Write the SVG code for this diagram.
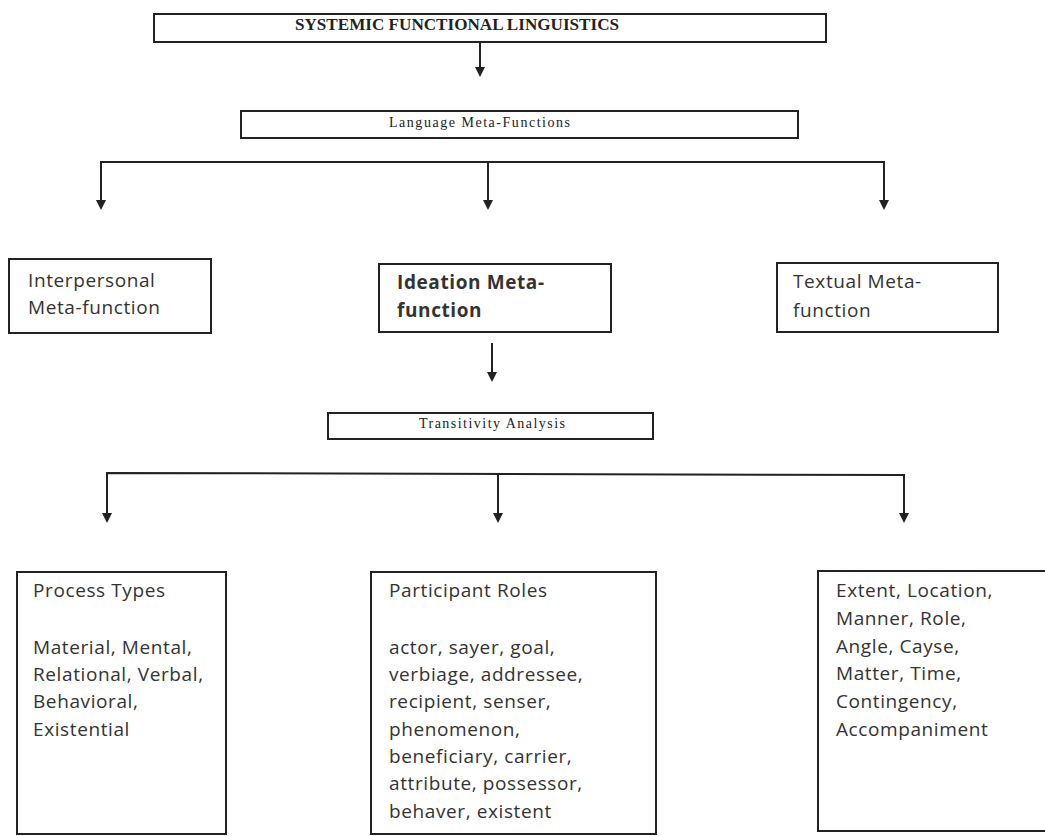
<svg xmlns="http://www.w3.org/2000/svg" width="1045" height="836" viewBox="0 0 1045 836">
<style>
.box{fill:#fff;stroke:#222;stroke-width:2}
.ser{font-family:"Liberation Serif",serif;fill:#222}
.sans{font-family:"Open Sans","DejaVu Sans",sans-serif;font-size:19px;letter-spacing:0.6px;fill:#333}
.ln{stroke:#222;stroke-width:2;fill:none}
.ah{fill:#222}
</style>
<rect width="1045" height="836" fill="#fff"/>
<g id="connectors">
<line class="ln" x1="480" y1="42" x2="480" y2="70"/>
<path class="ah" d="M475,67 L485,67 L480,77 Z"/>
<polyline class="ln" points="101,204 101,162 884,162 884,204"/>
<line class="ln" x1="488" y1="162" x2="488" y2="204"/>
<path class="ah" d="M96,200 L106,200 L101,210 Z"/>
<path class="ah" d="M483,200 L493,200 L488,210 Z"/>
<path class="ah" d="M879,200 L889,200 L884,210 Z"/>
<line class="ln" x1="492" y1="343" x2="492" y2="376"/>
<path class="ah" d="M487,372 L497,372 L492,382 Z"/>
<polyline class="ln" points="107,517 107,473 904,475 904,517"/>
<line class="ln" x1="498" y1="474" x2="498" y2="517"/>
<path class="ah" d="M102,513 L112,513 L107,523 Z"/>
<path class="ah" d="M493,513 L503,513 L498,523 Z"/>
<path class="ah" d="M899,513 L909,513 L904,523 Z"/>
</g>
<g id="sfl">
<rect class="box" x="154" y="14" width="672" height="28"/>
<text class="ser" x="295" y="30" font-size="16" font-weight="bold" textLength="324" lengthAdjust="spacingAndGlyphs">SYSTEMIC FUNCTIONAL LINGUISTICS</text>
</g>
<g id="lmf">
<rect class="box" x="241" y="111" width="557" height="27"/>
<text class="ser" x="389" y="127" font-size="14" textLength="181" lengthAdjust="spacing">Language Meta-Functions</text>
</g>
<g id="interpersonal">
<rect class="box" x="9" y="259" width="202" height="74"/>
<text class="sans" x="28" y="287">Interpersonal</text>
<text class="sans" x="28" y="314">Meta-function</text>
</g>
<g id="ideation">
<rect class="box" x="379" y="264" width="232" height="68"/>
<text class="sans" x="397" y="289" font-weight="bold" letter-spacing="0.4">Ideation Meta-</text>
<text class="sans" x="397" y="317" font-weight="bold" letter-spacing="0.4">function</text>
</g>
<g id="textual">
<rect class="box" x="777" y="263" width="221" height="69"/>
<text class="sans" x="793" y="288">Textual Meta-</text>
<text class="sans" x="793" y="317">function</text>
</g>
<g id="transitivity">
<rect class="box" x="328" y="413" width="325" height="26"/>
<text class="ser" x="419" y="428" font-size="14" textLength="146" lengthAdjust="spacing">Transitivity Analysis</text>
</g>
<g id="process">
<rect class="box" x="17" y="572" width="209" height="262"/>
<text class="sans" x="33" y="597">Process Types</text>
<text class="sans" x="33" y="654">Material, Mental,</text>
<text class="sans" x="33" y="681">Relational, Verbal,</text>
<text class="sans" x="33" y="708">Behavioral,</text>
<text class="sans" x="33" y="736">Existential</text>
</g>
<g id="participant">
<rect class="box" x="371" y="572" width="285" height="262"/>
<text class="sans" x="389" y="597">Participant Roles</text>
<text class="sans" x="389" y="654">actor, sayer, goal,</text>
<text class="sans" x="389" y="681">verbiage, addressee,</text>
<text class="sans" x="389" y="708">recipient, senser,</text>
<text class="sans" x="389" y="736">phenomenon,</text>
<text class="sans" x="389" y="763">beneficiary, carrier,</text>
<text class="sans" x="389" y="790">attribute, possessor,</text>
<text class="sans" x="389" y="818">behaver, existent</text>
</g>
<g id="circumstance">
<rect class="box" x="818" y="571" width="240" height="260"/>
<text class="sans" x="836" y="597">Extent, Location,</text>
<text class="sans" x="836" y="625">Manner, Role,</text>
<text class="sans" x="836" y="653">Angle, Cayse,</text>
<text class="sans" x="836" y="680">Matter, Time,</text>
<text class="sans" x="836" y="708">Contingency,</text>
<text class="sans" x="836" y="736">Accompaniment</text>
</g>
</svg>
